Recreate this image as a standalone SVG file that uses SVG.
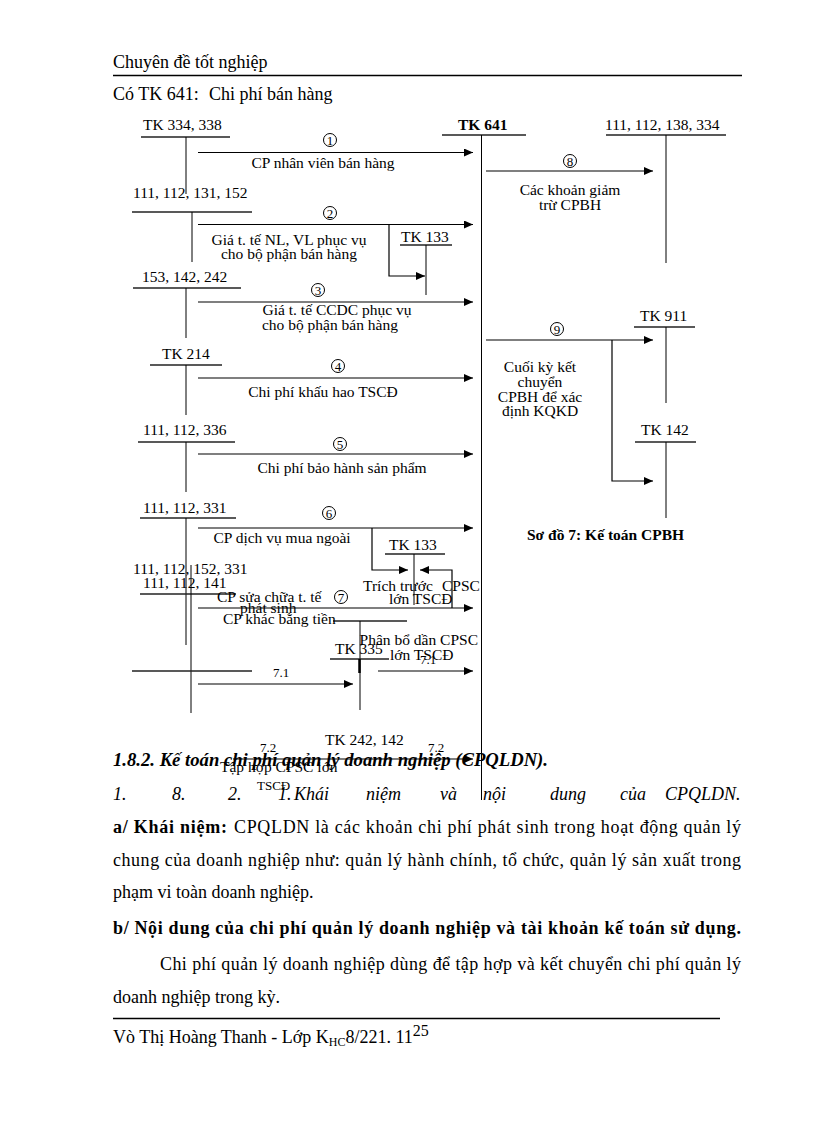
<svg xmlns="http://www.w3.org/2000/svg" width="816" height="1123" viewBox="0 0 816 1123">
<defs>
<marker id="ah" markerUnits="userSpaceOnUse" markerWidth="9" markerHeight="8" refX="9" refY="4" orient="auto">
<path d="M0,0 L9,4 L0,8 z" fill="#000"/>
</marker>
<style>
.t{font-family:"Liberation Serif","Times New Roman",serif;font-size:15.5px;fill:#000}
.s{font-family:"Liberation Serif","Times New Roman",serif;font-size:13px;fill:#000}
.b{font-family:"Liberation Serif","Times New Roman",serif;font-size:18px;fill:#000}
.bd{font-weight:bold}
.it{font-style:italic}
.m{text-anchor:middle}
.ln{stroke:#000;stroke-width:1;fill:none}
.ul{stroke:#222;stroke-width:1.6;fill:none}
.ar{stroke:#000;stroke-width:1.2;fill:none;marker-end:url(#ah)}
.cn{fill:none;stroke:#000;stroke-width:1}
</style>
</defs>
<rect width="816" height="1123" fill="#fff"/>

<!-- page header -->
<text class="b" x="113" y="68">Chuyên đề tốt nghiệp</text>
<line x1="113" y1="75.5" x2="742" y2="75.5" stroke="#000" stroke-width="1.5"/>
<text class="b" x="113" y="100">Có TK 641:</text>
<text class="b" x="209" y="100">Chi phí bán hàng</text>

<!-- T-account nodes -->
<g id="tk334">
<text class="t" x="143" y="130">TK 334, 338</text>
<line class="ul" x1="141" y1="137" x2="230" y2="137"/>
<line class="ln" x1="186" y1="137" x2="186" y2="194"/>
</g>
<g id="tk111a">
<text class="t" x="133" y="198">111, 112, 131, 152</text>
<line class="ul" x1="132" y1="212" x2="252" y2="212"/>
<line class="ln" x1="192" y1="212" x2="192" y2="262"/>
</g>
<g id="tk153">
<text class="t" x="142" y="282">153, 142, 242</text>
<line class="ul" x1="133" y1="288" x2="241" y2="288"/>
<line class="ln" x1="186" y1="288" x2="186" y2="338"/>
</g>
<g id="tk214">
<text class="t" x="162" y="359">TK 214</text>
<line class="ul" x1="150" y1="365" x2="222" y2="365"/>
<line class="ln" x1="186" y1="365" x2="186" y2="415"/>
</g>
<g id="tk111b">
<text class="t" x="143" y="435">111, 112, 336</text>
<line class="ul" x1="138" y1="442" x2="235" y2="442"/>
<line class="ln" x1="186" y1="442" x2="186" y2="492"/>
</g>
<g id="tk111c">
<text class="t" x="143" y="513">111, 112, 331</text>
<line class="ul" x1="140" y1="518" x2="236" y2="518"/>
<line class="ln" x1="186" y1="518" x2="186" y2="645"/>
</g>
<g id="tk111d">
<text class="t" x="133" y="574">111, 112, 152, 331</text>
<text class="t" x="143" y="588">111, 112, 141</text>
<line class="ul" x1="140" y1="594" x2="236" y2="594"/>
<line class="ln" x1="191" y1="565" x2="191" y2="713"/>
<line class="ul" x1="132" y1="671" x2="252" y2="671"/>
</g>
<g id="tk641">
<text class="t bd" x="458" y="130">TK 641</text>
<line class="ul" x1="442" y1="135" x2="526" y2="135"/>
<line class="ln" x1="481.5" y1="135" x2="481.5" y2="800"/>
</g>
<g id="tk111e">
<text class="t" x="605" y="130">111, 112, 138, 334</text>
<line class="ul" x1="606" y1="135" x2="726" y2="135"/>
<line class="ln" x1="666" y1="135" x2="666" y2="263"/>
</g>
<g id="tk133a">
<text class="t" x="401" y="242">TK 133</text>
<line class="ul" x1="400" y1="245" x2="452" y2="245"/>
<line class="ln" x1="426" y1="245" x2="426" y2="295"/>
</g>
<g id="tk133b">
<text class="t" x="389" y="550">TK 133</text>
<line class="ul" x1="385" y1="554" x2="445" y2="554"/>
<line class="ln" x1="414" y1="554" x2="414" y2="605"/>
</g>
<g id="tk335">
<line class="ul" x1="333" y1="621" x2="407" y2="621"/>
<line class="ln" x1="360" y1="621" x2="360" y2="710"/>
<text class="t" x="335" y="654">TK 335</text>
<line class="ul" x1="330" y1="659" x2="389" y2="659"/>
<line x1="359.5" y1="659" x2="359.5" y2="673" stroke="#000" stroke-width="2.5"/>
</g>
<g id="tk242">
<text class="t" x="325" y="745">TK 242, 142</text>
</g>
<g id="tk911">
<text class="t" x="640" y="321">TK 911</text>
<line class="ul" x1="634" y1="327" x2="695" y2="327"/>
<line class="ln" x1="666" y1="327" x2="666" y2="403"/>
</g>
<g id="tk142">
<text class="t" x="641" y="435">TK 142</text>
<line class="ul" x1="635" y1="442" x2="696" y2="442"/>
<line class="ln" x1="666" y1="442" x2="666" y2="518"/>
</g>
<g id="caption">
<text class="t bd" x="527" y="540">Sơ đồ 7: Kế toán CPBH</text>
</g>

<!-- labels -->
<g id="labels">
<circle class="cn" cx="330" cy="140" r="6.5"/><text class="s m" x="330" y="144.5" font-size="11px">1</text>
<text class="t m" x="323" y="168">CP nhân viên bán hàng</text>
<circle class="cn" cx="330" cy="213" r="6.5"/><text class="s m" x="330" y="217.5" font-size="11px">2</text>
<text class="t m" x="289" y="245">Giá t. tế NL, VL phục vụ</text>
<text class="t m" x="289" y="259">cho bộ phận bán hàng</text>
<circle class="cn" cx="318" cy="290" r="6.5"/><text class="s m" x="318" y="294.5" font-size="11px">3</text>
<text class="t m" x="337" y="315">Giá t. tế CCDC phục vụ</text>
<text class="t m" x="330" y="330">cho bộ phận bán hàng</text>
<circle class="cn" cx="338" cy="366" r="6.5"/><text class="s m" x="338" y="370.5" font-size="11px">4</text>
<text class="t m" x="323" y="397">Chi phí khấu hao TSCĐ</text>
<circle class="cn" cx="340" cy="444" r="6.5"/><text class="s m" x="340" y="448.5" font-size="11px">5</text>
<text class="t m" x="342" y="473">Chi phí bảo hành sản phẩm</text>
<circle class="cn" cx="329" cy="513" r="6.5"/><text class="s m" x="329" y="517.5" font-size="11px">6</text>
<text class="t m" x="282" y="543">CP dịch vụ mua ngoài</text>
<text class="t" x="363" y="591">Trích trước</text>
<text class="t" x="442" y="591">CPSC</text>
<text class="t" x="389" y="604">lớn TSCĐ</text>
<text class="t" x="217" y="602">CP sửa chữa t. tế</text>
<circle class="cn" cx="341" cy="597" r="6.5"/><text class="s m" x="341" y="601.5" font-size="11px">7</text>
<text class="t" x="240" y="613">phát sinh</text>
<text class="t" x="223" y="624">CP khác bằng tiền</text>
<text class="t" x="478" y="645" text-anchor="end">Phân bổ dần CPSC</text>
<text class="t" x="390" y="660">lớn TSCĐ</text>
<text class="s" x="420" y="664">7.1</text>
<text class="s" x="273" y="677">7.1</text>
<text class="s" x="260" y="752">7.2</text>
<text class="s" x="428" y="752">7.2</text>
<circle class="cn" cx="570" cy="161" r="6.5"/><text class="s m" x="570" y="165.5" font-size="11px">8</text>
<text class="t m" x="570" y="195">Các khoản giảm</text>
<text class="t m" x="570" y="210">trừ CPBH</text>
<circle class="cn" cx="557" cy="329" r="6.5"/><text class="s m" x="557" y="333.5" font-size="11px">9</text>
<text class="t m" x="540" y="372">Cuối kỳ kết</text>
<text class="t m" x="540" y="387">chuyển</text>
<text class="t m" x="540" y="402">CPBH để xác</text>
<text class="t m" x="540" y="416">định KQKD</text>
</g>

<!-- body text -->
<g id="body">
<text class="b bd it" x="113" y="766" textLength="435" lengthAdjust="spacingAndGlyphs">1.8.2. Kế toán chi phí quản lý doanh nghiệp (CPQLDN).</text>
<text class="t" x="220" y="772">Tập hợp CPSC lớn</text>
<text class="s" x="257" y="790">TSCĐ</text>
<g class="b it">
<text x="113" y="800">1.</text>
<text x="172" y="800">8.</text>
<text x="228" y="800">2.</text>
<text x="278" y="800">1.</text>
<text x="294" y="800">Khái</text>
<text x="366" y="800">niệm</text>
<text x="440" y="800">và</text>
<text x="483" y="800">nội</text>
<text x="550" y="800">dung</text>
<text x="620" y="800">của</text>
<text x="665" y="800">CPQLDN.</text>
</g>
<text class="b bd" x="113" y="833" textLength="114" lengthAdjust="spacing">a/ Khái niệm:</text>
<text class="b" x="234" y="833" textLength="507" lengthAdjust="spacing">CPQLDN là các khoản chi phí phát sinh trong hoạt động quản lý</text>
<text class="b" x="113" y="866" textLength="628" lengthAdjust="spacing">chung của doanh nghiệp như: quản lý hành chính, tổ chức, quản lý sản xuất trong</text>
<text class="b" x="113" y="898">phạm vi toàn doanh nghiệp.</text>
<text class="b bd" x="113" y="934" textLength="628" lengthAdjust="spacing">b/ Nội dung của chi phí quản lý doanh nghiệp và tài khoản kế toán sử dụng.</text>
<text class="b" x="160" y="970" textLength="581" lengthAdjust="spacing">Chi phí quản lý doanh nghiệp dùng để tập hợp và kết chuyển chi phí quản lý</text>
<text class="b" x="113" y="1003">doanh nghiệp trong kỳ.</text>
<line x1="113" y1="1018.5" x2="720" y2="1018.5" stroke="#000" stroke-width="1.3"/>
<text class="b" x="113" y="1043">Vò Thị Hoàng Thanh - Lớp K<tspan font-size="12px" dy="3">HC</tspan><tspan dy="-3">8/221. 11</tspan><tspan font-size="16px" dy="-7">25</tspan></text>
</g>

<!-- connectors -->
<g id="connectors">
<line class="ar" x1="198" y1="152.5" x2="473" y2="152.5"/>
<line class="ar" x1="198" y1="224.5" x2="473" y2="224.5"/>
<polyline class="ar" points="389,225 389,276 425,276"/>
<line class="ar" x1="198" y1="302" x2="473" y2="302"/>
<line class="ar" x1="198" y1="378" x2="473" y2="378"/>
<line class="ar" x1="198" y1="454" x2="473" y2="454"/>
<line class="ar" x1="198" y1="528" x2="473" y2="528"/>
<polyline class="ar" points="372,528 372,570 408,570"/>
<polyline class="ar" points="452,608 452,570 420,570"/>
<line class="ar" x1="198" y1="608" x2="473" y2="608"/>
<line class="ar" x1="198" y1="684" x2="353" y2="684"/>
<line class="ar" x1="378" y1="671" x2="473" y2="671"/>
<line class="ar" x1="233" y1="759" x2="473" y2="759"/>
<line class="ar" x1="486" y1="171" x2="653" y2="171"/>
<line class="ar" x1="486" y1="340" x2="653" y2="340"/>
<polyline class="ar" points="612,340 612,481 653,481"/>
</g>
</svg>
